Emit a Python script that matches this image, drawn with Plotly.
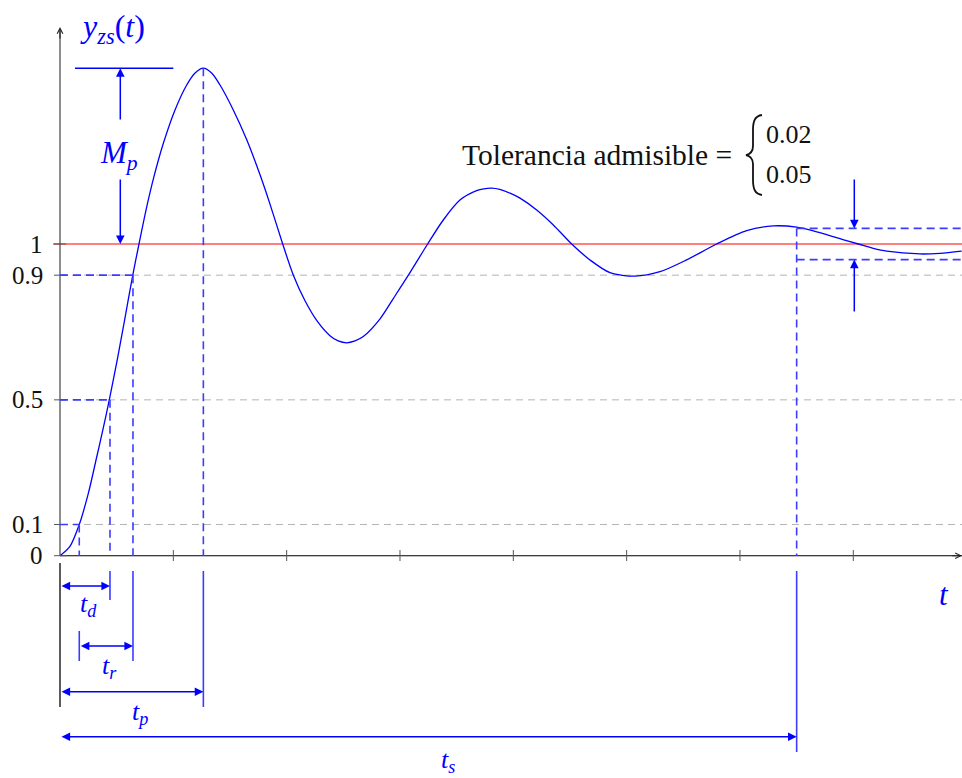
import plotly.graph_objects as go

# ---------------- data ----------------
t_vals = [0.000, 0.088, 0.170, 0.250, 0.318, 0.382, 0.435, 0.506, 0.568, 0.641,
          0.697, 0.759, 0.829, 0.912, 1.015, 1.118, 1.190, 1.265, 1.340, 1.412,
          1.529, 1.647, 1.765, 1.853, 1.965, 2.059, 2.162, 2.265, 2.382, 2.455,
          2.529, 2.603, 2.676, 2.824, 2.941, 3.074, 3.244, 3.382, 3.529, 3.676,
          3.740, 3.809, 3.880, 3.971, 4.059, 4.206, 4.353, 4.515, 4.676, 4.853,
          5.074, 5.294, 5.529, 5.794, 6.059, 6.294, 6.500, 6.647, 6.765, 6.900,
          7.044, 7.176, 7.294, 7.588, 7.765, 7.956]
y_vals = [0.000, 0.030, 0.100, 0.200, 0.307, 0.410, 0.500, 0.630, 0.752, 0.898,
          1.000, 1.109, 1.216, 1.323, 1.430, 1.510, 1.548, 1.564, 1.548, 1.510,
          1.430, 1.335, 1.222, 1.128, 1.000, 0.900, 0.818, 0.755, 0.706, 0.689,
          0.683, 0.689, 0.703, 0.760, 0.825, 0.900, 1.000, 1.077, 1.141, 1.171,
          1.177, 1.179, 1.175, 1.163, 1.147, 1.109, 1.061, 1.000, 0.949, 0.908,
          0.897, 0.911, 0.949, 1.000, 1.043, 1.058, 1.054, 1.042, 1.030, 1.015,
          1.000, 0.986, 0.977, 0.968, 0.970, 0.977]

y_tick_vals = [0, 0.1, 0.5, 0.9, 1]
y_tick_text = ["0", "0.1", "0.5", "0.9", "1"]
x_tick_vals = [1, 2, 3, 4, 5, 6, 7]
grid_levels = [0.1, 0.5, 0.9]

T10, TD, T90 = 0.170, 0.441, 0.644     # times at 10 %, 50 %, 90 %
TP, YP = 1.265, 1.564                  # peak time / peak value
TS, TOL = 6.50, 0.05                   # settling time / tolerance band
tol_options = ["0.02", "0.05"]

# ---------------- pixel <-> data helpers (layout only) ----------------
W, H = 962, 778
X0, SX = 60.0, 113.33
Y0, SY = 555.7, 311.7
def tx(px):
    return (px - X0) / SX
def ty(py):
    return (Y0 - py) / SY
XMAX = tx(W)

BLUE = "#0000ff"
DBLUE = "#3c3cff"
FONT = "Liberation Serif, Times New Roman, serif"

fig = go.Figure()
shapes = []
ann = []

def seg(x0, y0, x1, y1, color, width=1.0, dash="solid", layer="above"):
    shapes.append(dict(type="line", xref="x", yref="y", x0=x0, y0=y0, x1=x1, y1=y1,
                       line=dict(color=color, width=width, dash=dash), layer=layer))

# grey dashed reference levels
for lv in grid_levels:
    seg(0, lv, XMAX, lv, "#b4b4b4", 1, "7px,5px", "below")
# red steady-state line
seg(tx(53), 1, XMAX, 1, "#ff0000", 1.2, "solid", "below")

# axes
seg(0, 0, XMAX, 0, "#000000", 1.1)
seg(0, 0, 0, ty(30), "#444444", 1.2)
seg(0, ty(563), 0, ty(707), "#333333", 1.6)
for v in y_tick_vals:
    seg(tx(54), v, tx(66), v, "#555555", 1)
for v in x_tick_vals:
    seg(v, ty(550), v, ty(561), "#555555", 1)

# blue dashed construction lines
DASH = "8px,5px"
seg(0, 0.1, T10, 0.1, DBLUE, 1.6, DASH)
seg(0, 0.5, TD, 0.5, DBLUE, 1.6, DASH)
seg(0, 0.9, T90, 0.9, DBLUE, 1.6, DASH)
seg(T10, 0.1, T10, 0, DBLUE, 1.6, DASH)
seg(TD, 0.5, TD, 0, DBLUE, 1.6, DASH)
seg(T90, 0.9, T90, 0, DBLUE, 1.6, DASH)
seg(TP, YP, TP, 0, DBLUE, 1.6, DASH)
seg(TS, 1 + TOL, TS, 0, DBLUE, 1.6, DASH)
seg(TS, 1 + TOL, XMAX, 1 + TOL, DBLUE, 1.6, DASH)
seg(TS, 1 - TOL, XMAX, 1 - TOL, DBLUE, 1.6, DASH)

# solid blue marker lines below the axis
seg(TD, ty(571), TD, ty(600), DBLUE, 1.6)
seg(T10, ty(631), T10, ty(661), DBLUE, 1.6)
seg(T90, ty(571), T90, ty(661), DBLUE, 1.6)
seg(TP, ty(571), TP, ty(707), DBLUE, 1.6)
seg(TS, ty(571), TS, ty(752), DBLUE, 1.6)

# Mp top line
seg(tx(75), YP, 1.0, YP, BLUE, 1.4)

def arrow(x0, y0, x1, y1, both=False, head=2, size=1.15, width=1.5, color=BLUE):
    ann.append(dict(x=x1, y=y1, ax=x0, ay=y0, xref="x", yref="y", axref="x", ayref="y",
                    text="", showarrow=True, arrowhead=head, startarrowhead=head,
                    arrowsize=size, startarrowsize=size, arrowwidth=width,
                    arrowcolor=color, arrowside="end+start" if both else "end",
                    standoff=0, startstandoff=0))

# axis arrow heads
arrow(0, ty(40), 0, ty(27), head=5, size=1.0, width=1.1, color="#222222")
arrow(XMAX - 0.1, 0, XMAX, 0, head=5, size=1.0, width=1.1, color="#222222")

# time measurement arrows
arrow(0, ty(586), TD, ty(586), both=True)
arrow(T10, ty(646), T90, ty(646), both=True)
arrow(0, ty(691.7), TP, ty(691.7), both=True)
arrow(0, ty(736.7), TS, ty(736.7), both=True)

# Mp arrows
XM = tx(120.3)
arrow(XM, ty(121), XM, YP)
arrow(XM, ty(178), XM, 1.0)

# tolerance arrows
XA = tx(854.3)
arrow(XA, ty(178), XA, 1 + TOL)
arrow(XA, ty(313), XA, 1 - TOL)

# brace for tolerance options (pixel-defined path converted to data)
def P(px, py):
    return f"{tx(px):.4f},{ty(py):.4f}"
brace = (f"M{P(762,115)} C{P(755,116)} {P(753,121)} {P(753,130)} L{P(753,146)} "
         f"C{P(753,151)} {P(751,154)} {P(746,155)} C{P(751,156)} {P(753,159)} {P(753,164)} "
         f"L{P(753,180)} C{P(753,189)} {P(755,194)} {P(762,195)}")
shapes.append(dict(type="path", xref="x", yref="y", path=brace,
                   line=dict(color="#111111", width=1.8)))

# curve
fig.add_trace(go.Scatter(x=t_vals, y=y_vals, mode="lines",
                         line=dict(color=BLUE, width=1.3, shape="spline", smoothing=0.8),
                         hoverinfo="skip", showlegend=False))

def text(px, py, s, size, color="#111111", xanchor="center", yanchor="middle"):
    ann.append(dict(x=tx(px), y=ty(py), xref="x", yref="y", text=s, showarrow=False,
                    xanchor=xanchor, yanchor=yanchor,
                    font=dict(family=FONT, size=size, color=color)))

for v, lab in zip(y_tick_vals, y_tick_text):
    ann.append(dict(x=tx(45), y=v, xref="x", yref="y", text=lab, showarrow=False,
                    xanchor="right", yanchor="middle",
                    font=dict(family=FONT, size=25, color="#111111")))

text(112, 28, "<i>y</i><sub><i>zs</i></sub>(<i>t</i>)", 32, BLUE)
text(119, 155, "<i>M</i><sub><i>p</i></sub>", 31, BLUE)
text(88, 605, "<i>t</i><sub><i>d</i></sub>", 26, BLUE)
text(109, 667, "<i>t</i><sub><i>r</i></sub>", 26, BLUE)
text(140, 713, "<i>t</i><sub><i>p</i></sub>", 26, BLUE)
text(448, 761, "<i>t</i><sub><i>s</i></sub>", 26, BLUE)
text(944, 594, "<i>t</i>", 31, BLUE)
text(734, 155, "Tolerancia admisible =", 29.5, "#111111", xanchor="right")
text(764, 134, tol_options[0], 26, "#111111", xanchor="left")
text(764, 174, tol_options[1], 26, "#111111", xanchor="left")

fig.update_layout(
    width=W, height=H,
    margin=dict(l=0, r=0, t=0, b=0),
    paper_bgcolor="white", plot_bgcolor="white",
    xaxis=dict(range=[tx(0), tx(W)], visible=False, fixedrange=True),
    yaxis=dict(range=[ty(H), ty(0)], visible=False, fixedrange=True),
    shapes=shapes, annotations=ann, showlegend=False,
)

fig.write_html("out.html", config={"displayModeBar": False},
               post_script="document.body.style.margin='0';document.body.style.overflow='hidden';")
